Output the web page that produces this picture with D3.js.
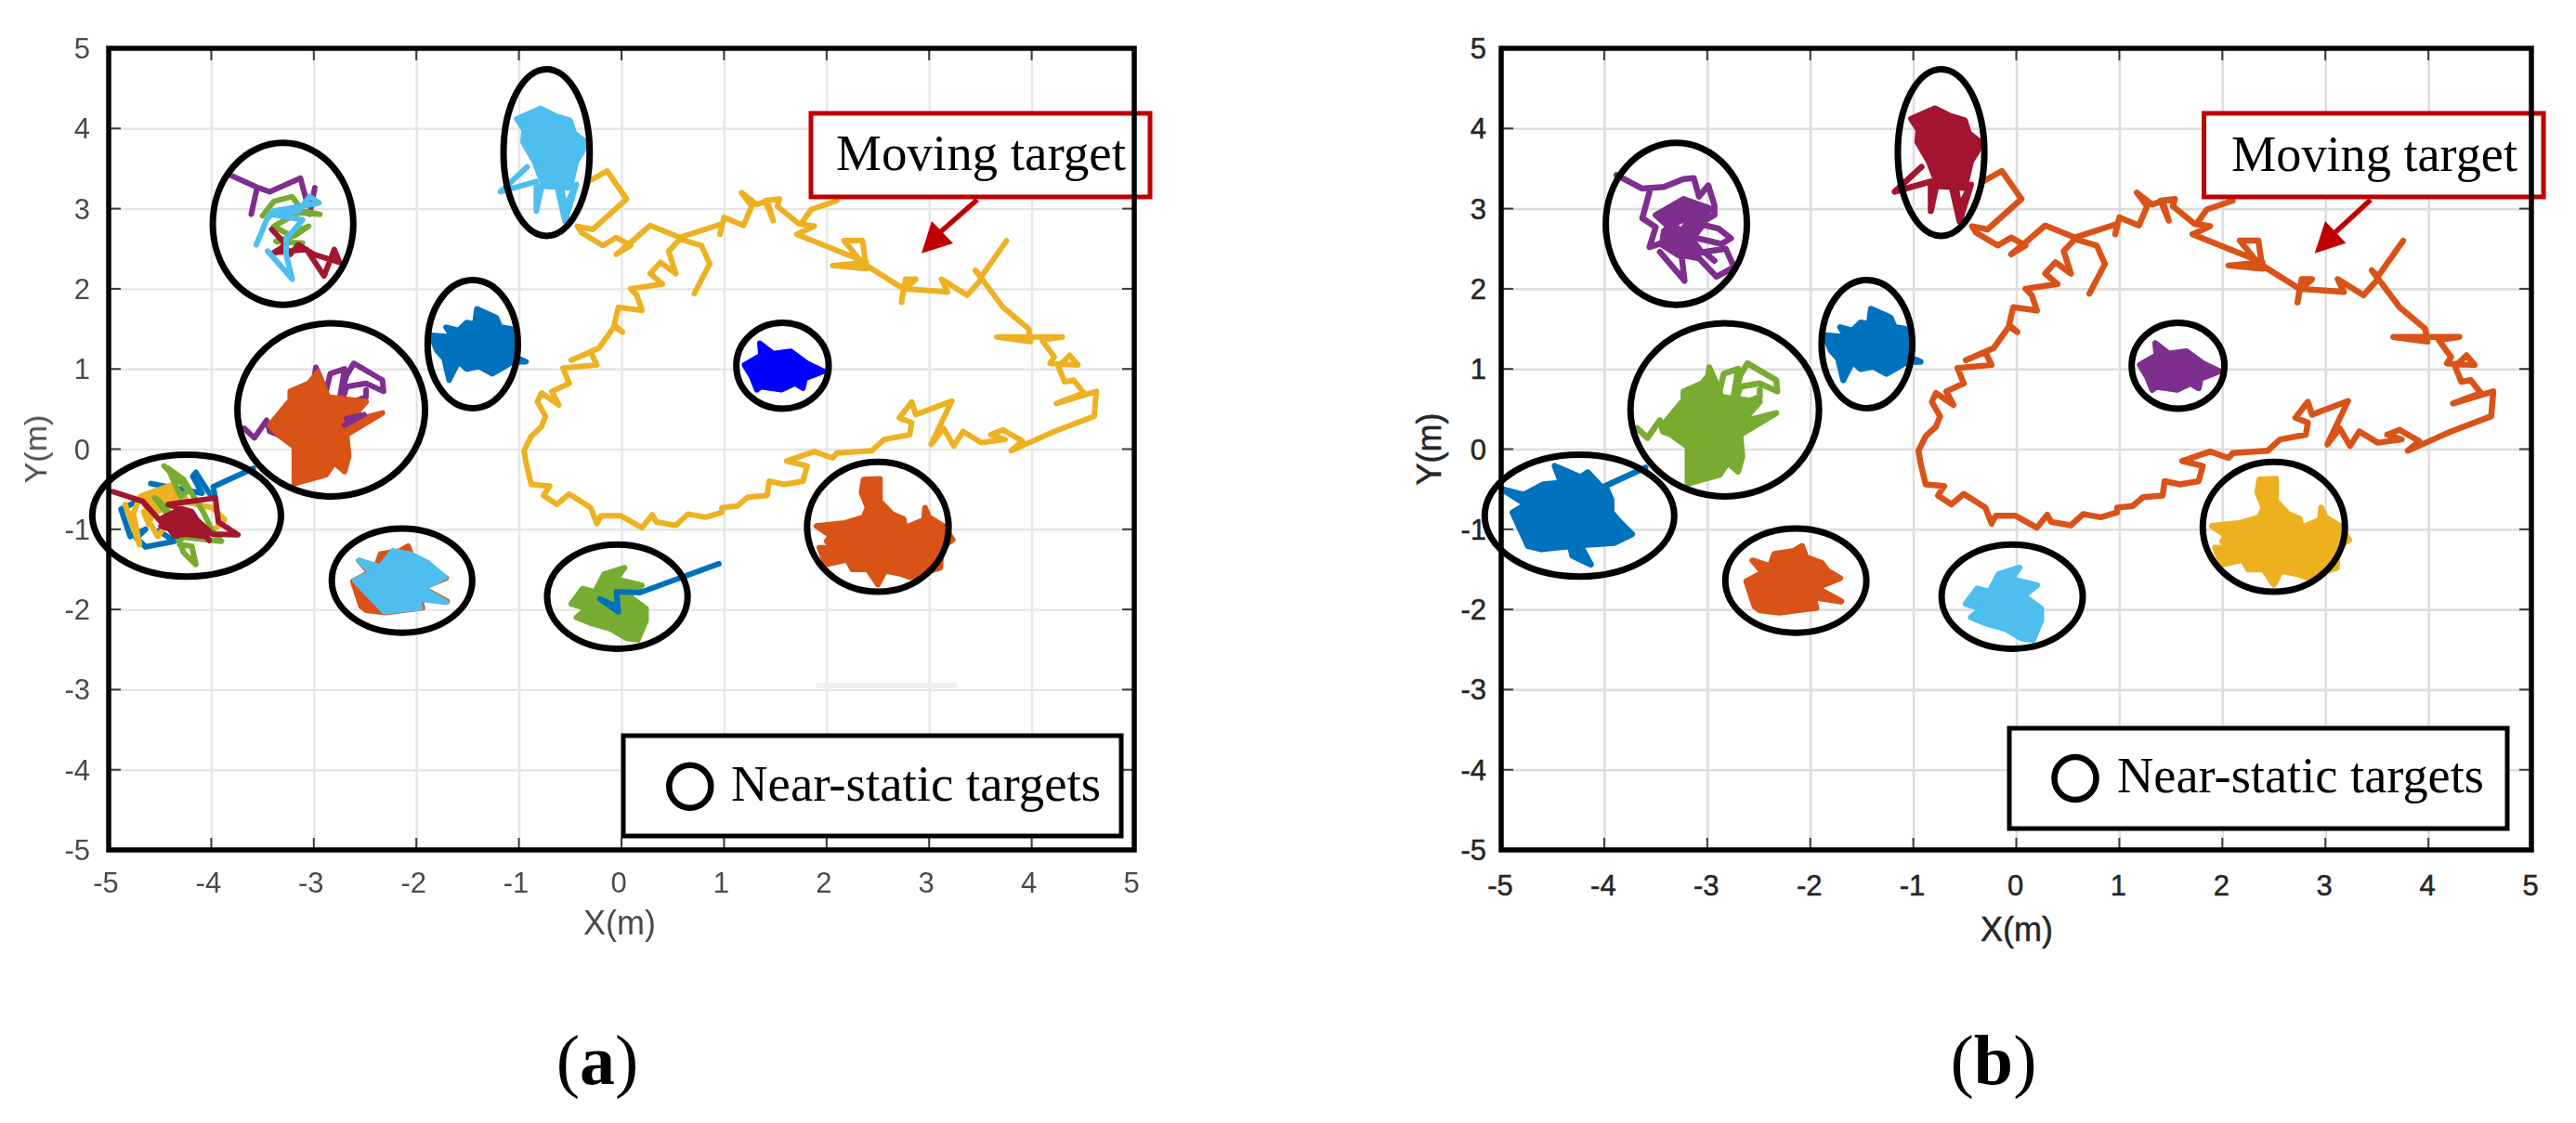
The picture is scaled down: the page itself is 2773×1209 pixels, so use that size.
<!DOCTYPE html>
<html><head><meta charset="utf-8">
<script src="https://cdn.jsdelivr.net/npm/d3@7/dist/d3.min.js"></script>
<style>html,body{margin:0;padding:0;background:#fff}svg{display:block}</style>
</head><body><svg id="c" width="2773" height="1209"></svg>
<script>
// ---- tick labels
const tickValues = [-5,-4,-3,-2,-1,0,1,2,3,4,5];
const xLabel = "X(m)", yLabel = "Y(m)";
const movingLabel = "Moving target", staticLabel = "Near-static targets";

// ---- moving target trajectory (metres)
const movingA = [[3.755,2.60],[3.51,2.155],[3.45,2.23],[3.54,2.08],[3.72,1.77],[3.97,1.50],[3.99,1.34],[3.66,1.40],[4.30,1.40],[4.10,1.36],[4.22,1.15],[4.18,1.07],[4.45,1.05],[4.37,1.17],[4.26,1.03],[4.32,.84],[4.41,.86],[4.51,.70],[4.24,.57],[4.63,.72],[4.61,.41],[4.22,.22],[4.01,.10],[3.80,-.02],[3.91,.10],[3.72,.24],[3.60,.18],[3.74,.12],[3.51,.08],[3.33,.22],[3.24,.04],[3.14,.26],[3.02,.06],[3.22,.60],[2.87,.43],[2.83,.59],[2.71,.39],[2.83,.33],[2.81,.18],[2.56,.12],[2.44,-.02],[2.10,-.05],[2.06,-.11],[1.88,-.03],[1.61,-.15],[1.81,-.21],[1.77,-.40],[1.59,-.44],[1.44,-.40],[1.42,-.58],[1.23,-.60],[1.13,-.71],[.98,-.73],[.98,-.79],[.82,-.85],[.65,-.81],[.53,-.95],[.34,-.91],[.30,-.82],[.20,-.98],[-.01,-.83],[-.20,-.83],[-.24,-.93],[-.30,-.73],[-.51,-.56],[-.63,-.69],[-.76,-.58],[-.70,-.46],[-.88,-.44],[-.93,-.17],[-.95,-.02],[-.88,.16],[-.78,.28],[-.74,.41],[-.82,.59],[-.78,.70],[-.61,.55],[-.68,.72],[-.51,.82],[-.57,1.01],[-.24,1.05],[-.30,1.21],[-.49,1.11],[-.22,1.26],[-.07,1.53],[.01,1.46],[-.07,1.55],[-.03,1.77],[.20,1.73],[.15,1.92],[.09,2.00],[.40,2.06],[.28,2.19],[.38,2.33],[.53,2.19],[.46,2.47],[.57,2.62],[.78,2.54],[.86,2.31],[.71,1.94]];
const movingB = [[.57,2.64],[.28,2.79],[.11,2.60],[-.05,2.43],[.09,2.54],[-.05,2.64],[-.18,2.54],[-.39,2.70],[-.43,2.78],[-.28,2.74],[.05,3.12],[-.14,3.47],[-.32,3.34]];
const movingC = [[.57,2.64],[.98,2.81],[.96,2.68],[1.00,2.89],[1.19,2.79],[1.27,3.03],[1.17,3.20],[1.32,3.05],[1.42,3.10],[1.48,2.85],[1.40,3.10],[1.54,3.12],[1.52,3.03],[1.73,2.81],[1.88,2.78],[1.71,2.68],[2.39,2.33],[2.06,2.29],[2.39,2.25],[2.35,2.60],[2.17,2.60],[2.33,2.35],[2.39,2.29],[2.75,2.00],[2.73,1.83],[2.77,2.12],[2.87,2.12],[2.77,2.00],[3.18,1.96],[3.12,2.12],[3.37,1.92],[3.51,2.12]];
const movingD = [[1.75,2.81],[1.85,2.99],[2.10,3.10]];

// ---- near-static target clusters (metres)
const t1Core = [[-.79,4.25],[-1.02,4.12],[-.95,3.98],[-.96,3.83],[-.85,3.59],[-.80,3.42],[-.75,3.28],[-.50,3.26],[-.44,3.59],[-.38,3.71],[-.35,3.83],[-.46,3.94],[-.50,4.10],[-.65,4.16]];
const t1Trail = [[-.92,3.52],[-1.18,3.21],[-.83,3.34],[-.83,2.97],[-.76,3.38],[-.65,3.40],[-.55,2.84],[-.44,3.30],[-.55,3.02],[-.60,3.35]];
const t2PurpleA = [[-3.82,3.42],[-3.54,3.26],[-3.43,3.21],[-3.13,3.38],[-3.07,3.09]];
const t2PurpleB = [[-3.56,3.22],[-3.61,2.93]];
const t2PurpleC = [[-2.99,3.26],[-3.04,2.93]];
const t2Green = [[-3.50,2.91],[-3.39,3.09],[-3.21,3.15],[-3.11,2.97],[-2.94,2.93],[-3.15,2.95],[-3.39,2.78],[-3.25,2.68],[-3.05,2.78],[-3.19,2.66],[-3.37,2.59],[-3.11,2.57]];
const t2Red = [[-3.41,2.74],[-3.27,2.55],[-3.39,2.45],[-3.07,2.49],[-2.90,2.16],[-2.80,2.49],[-2.75,2.33],[-3.00,2.43],[-3.15,2.55],[-3.23,2.43]];
const t2Sky = [[-3.56,2.55],[-3.46,2.86],[-3.39,2.97],[-2.95,3.07],[-3.04,3.15],[-3.15,2.97],[-3.43,2.93],[-3.11,2.86],[-3.27,2.62],[-3.27,2.43],[-3.21,2.12],[-3.45,2.47]];
const t2Outer = [[-3.88,3.42],[-3.63,3.25],[-3.42,3.27],[-3.23,3.37],[-3.13,3.38],[-3.08,3.15],[-2.99,3.29],[-2.93,3.04],[-2.93,2.92],[-3.08,2.81],[-2.89,2.75],[-2.77,2.63],[-2.86,2.56],[-3.16,2.65],[-3.42,2.58],[-3.56,2.52],[-3.50,2.77],[-3.63,2.88],[-3.56,3.21]];
const t2Lower = [[-3.46,2.46],[-3.22,2.10],[-3.25,2.42],[-3.08,2.38],[-2.91,2.15],[-2.74,2.27],[-2.82,2.50],[-3.03,2.46],[-2.93,2.35]];
const t2CoreUpper = [[-3.50,2.92],[-3.23,3.12],[-2.97,3.00],[-3.05,2.85],[-3.20,2.88],[-3.38,2.78]];
const t2CoreLower = [[-3.42,2.72],[-3.33,2.80],[-3.25,2.72],[-3.18,2.85],[-3.05,2.78],[-3.15,2.62],[-3.05,2.45],[-3.28,2.42],[-3.44,2.55]];
const t3Blob = [[-1.41,1.75],[-1.22,1.64],[-1.18,1.52],[-1.08,1.50],[-1.06,1.31],[-1.04,1.15],[-.93,1.09],[-1.06,1.09],[-1.14,1.03],[-1.26,.94],[-1.39,1.03],[-1.51,1.00],[-1.59,1.09],[-1.68,.86],[-1.73,1.13],[-1.80,1.23],[-1.86,1.42],[-1.65,1.40],[-1.71,1.52],[-1.59,1.48],[-1.51,1.58],[-1.43,1.56]];
const t4Core = [[-2.96,.96],[-2.86,.65],[-2.49,.59],[-2.66,.34],[-2.33,.45],[-2.68,.18],[-2.66,-.09],[-2.70,-.28],[-2.80,-.17],[-2.88,-.32],[-3.19,-.43],[-3.19,.03],[-3.33,.16],[-3.43,.30],[-3.23,.61],[-3.23,.72],[-3.05,.82]];
const t4Left = [[-3.68,.26],[-3.58,.14],[-3.46,.36],[-3.43,.22],[-3.31,.16]];
const t4Upper = [[-3.00,.84],[-2.98,1.02],[-2.88,.72],[-2.84,.94],[-2.70,1.00],[-2.76,.53],[-2.68,.92],[-2.61,1.07],[-2.33,.86],[-2.32,.72],[-2.49,.82],[-2.68,.78],[-2.74,.53],[-2.49,.65],[-2.49,.74]];
const t4Small = [[-2.70,.30],[-2.51,.43],[-2.68,.38]];
const t5Blue = [[-3.59,-.24],[-3.98,-.47],[-3.96,-.61],[-4.02,-.55],[-4.15,-.29],[-4.18,-.34],[-4.09,-.55],[-4.59,-.43],[-4.43,-.47],[-4.78,-.69],[-4.88,-.75],[-4.79,-1.09],[-4.64,-1.00],[-4.73,-1.11],[-4.64,-1.22],[-4.36,-1.15],[-4.51,-1.02]];
const t5Yellow = [[-4.84,-.69],[-4.70,-1.19],[-4.76,-.80],[-4.69,-.59],[-4.37,-.44],[-4.27,-.63],[-4.52,-1.09],[-4.66,-.78],[-4.61,-.94],[-4.51,-.59],[-3.99,-.73],[-3.87,-.88],[-3.95,-.98]];
const t5YellowCore = [[-4.68,-.62],[-4.37,-.47],[-4.25,-.62],[-4.45,-.75],[-4.60,-.80]];
const t5Green = [[-4.46,-.21],[-4.19,-.55],[-4.27,-.38],[-4.42,-.24],[-4.30,-.59],[-4.21,-.51],[-4.08,-.78],[-3.99,-1.02],[-3.90,-1.15],[-4.33,-1.09],[-4.27,-1.29],[-4.15,-1.44],[-4.19,-1.21],[-4.31,-1.19],[-4.28,-1.05],[-4.55,-.61],[-4.42,-.78],[-4.52,-.63]];
const t5Red = [[-4.96,-.53],[-4.67,-.65],[-4.48,-.92],[-4.33,-1.08],[-4.22,-.82],[-4.02,-1.14],[-4.19,-.78],[-4.42,-.69],[-3.96,-.61],[-3.93,-.91],[-3.74,-1.07],[-3.99,-1.06],[-4.15,-.87],[-4.24,-1.06],[-4.49,-.96],[-4.36,-.80]];
const t5RedCore = [[-4.48,-.86],[-4.33,-.77],[-4.18,-.86],[-4.06,-1.09],[-4.24,-1.06],[-4.36,-1.08]];
const t5Blob = [[-3.60,-.23],[-3.99,-.46],[-3.93,-.63],[-3.93,-.79],[-3.87,-.88],[-3.73,-1.06],[-3.90,-1.17],[-4.23,-1.20],[-4.13,-1.44],[-4.31,-1.33],[-4.33,-1.21],[-4.61,-1.25],[-4.74,-1.21],[-4.89,-.79],[-4.76,-.69],[-4.99,-.50],[-4.78,-.57],[-4.59,-.44],[-4.42,-.42],[-4.48,-.21],[-4.23,-.35],[-4.16,-.29],[-4.02,-.48]];
const t6Blob = [[-2.08,-1.21],[-2.04,-1.35],[-1.89,-1.42],[-1.83,-1.52],[-1.71,-1.61],[-1.94,-1.73],[-1.70,-1.90],[-1.97,-1.85],[-1.94,-1.98],[-2.30,-2.04],[-2.49,-2.01],[-2.54,-1.96],[-2.62,-1.65],[-2.46,-1.54],[-2.56,-1.39],[-2.39,-1.46],[-2.35,-1.31],[-2.16,-1.27]];
const t6Top = [[-2.23,-1.27],[-2.06,-1.31],[-1.90,-1.41],[-1.72,-1.60],[-1.94,-1.74],[-1.71,-1.91],[-1.98,-1.87],[-1.96,-1.98],[-2.31,-2.03],[-2.46,-1.83],[-2.60,-1.64],[-2.44,-1.54],[-2.56,-1.39],[-2.35,-1.47]];
const t7Blob = [[.03,-1.48],[-.05,-1.62],[.20,-1.70],[.07,-1.83],[.24,-1.99],[.24,-2.14],[.16,-2.38],[.05,-2.36],[-.11,-2.24],[-.28,-2.18],[-.44,-2.10],[-.34,-1.99],[-.49,-1.93],[-.38,-1.74],[-.26,-1.78],[-.17,-1.56]];
const t7Spur = [[.95,-1.43],[.18,-1.79],[-.05,-1.78],[-.03,-2.03],[-.21,-1.87],[-.07,-1.95]];
const t8Blob = [[1.35,1.32],[1.48,1.19],[1.65,1.22],[1.81,1.07],[1.97,.97],[1.79,.88],[1.77,.76],[1.69,.82],[1.56,.74],[1.36,.78],[1.32,.74],[1.27,.90],[1.20,1.05],[1.36,1.17]];
const t9Blob = [[2.36,-.38],[2.52,-.37],[2.52,-.65],[2.64,-.81],[2.75,-.87],[2.77,-.98],[2.95,-.88],[2.96,-.73],[3.00,-.85],[3.14,-.96],[3.23,-1.13],[3.12,-1.23],[3.11,-1.48],[2.82,-1.60],[2.73,-1.56],[2.57,-1.52],[2.50,-1.69],[2.40,-1.50],[2.25,-1.50],[2.20,-1.38],[1.99,-1.44],[1.93,-1.23],[2.07,-1.23],[2.00,-1.15],[2.04,-1.08],[1.90,-.96],[2.18,-.92],[2.36,-.85],[2.40,-.73],[2.34,-.54]];

// ---- cluster ellipses: centre x, centre y, radius x, radius y (metres)
const ellipseCx = [-.73,-3.30,-1.45,-2.83,-4.24,-2.14,-.04,1.57,2.50];
const ellipseCy = [3.70,2.81,1.31,.49,-.83,-1.64,-1.84,1.04,-.97];
const ellipseRx = [.42,.685,.44,.915,.92,.685,.685,.45,.69];
const ellipseRy = [1.04,1.01,.80,1.08,.76,.65,.65,.535,.81];

// ---- colours
const SKY="#4DBEEE", BLUE="#0072BD", PURE="#0000FF", GREEN="#77AC30", PURPLE="#7E2F8E", RED="#A2142F", ORANGE="#D95319", YELLOW="#EDB120";

const movingSegments = [movingA,movingB,movingC,movingD];

// layout of the two panels
const panels = [
 { x:[117,1221], y:[915,52], lw:6, blur:true, text:"#4a4a4a", stroke:0, moving:YELLOW, grid:"#e6e6e6", gridW:2.4,
   xBase:961, xLabelX:667, xLabelY:1006, yLabelX:50, yLabelSize:34, yEnd:97, xOff:-3,
   box:[873,1238,122,212], movingText:[900,183,312], arrow:[[1052,215],[1012,250]], head:[[992,272.7],[1003,238],[1026,262]],
   legend:[671,1207,792,900], circle:[742.8,846.7], staticText:[787,862,398],
   tag:"a", tagX:643,
   marks:[
    [t1Core,SKY,1],[t1Trail,SKY,0],
    [t2PurpleA,PURPLE,0],[t2PurpleB,PURPLE,0],[t2PurpleC,PURPLE,0],[t2Green,GREEN,0],[t2Red,RED,0],[t2Sky,SKY,0],
    [t3Blob,BLUE,1],
    [t4Left,PURPLE,0],[t4Upper,PURPLE,0],[t4Core,ORANGE,1],[t4Small,PURPLE,0],
    [t5Blue,BLUE,0],[t5Yellow,YELLOW,0],[t5YellowCore,YELLOW,1],[t5Green,GREEN,0],[t5Red,RED,0],[t5RedCore,RED,1],
    [t6Blob,ORANGE,1],[t6Top,SKY,1],
    [t7Blob,GREEN,1],[t7Spur,BLUE,0],
    [t8Blob,PURE,1],[t9Blob,ORANGE,1]
   ]},
 { x:[1616,2725], y:[915,52], lw:6.5, blur:false, text:"#262626", stroke:.5, moving:ORANGE, grid:"#dedede", gridW:2.6,
   xBase:964, xLabelX:2171, xLabelY:1013, yLabelX:1551, yLabelSize:36, yEnd:1600, xOff:-1,
   box:[2372.5,2738,122,212], movingText:[2402,183.5,308], arrow:[[2552,215],[2514,250]], head:[[2491.7,272.7],[2503,238],[2525.4,261.7]],
   legend:[2163,2699,784,892], circle:[2234,838], staticText:[2279,853,395],
   tag:"b", tagX:2146,
   marks:[
    [t1Core,RED,1],[t1Trail,RED,0],
    [t2Outer,PURPLE,0],[t2Lower,PURPLE,0],[t2CoreUpper,PURPLE,1],[t2CoreLower,PURPLE,1],
    [t3Blob,BLUE,1],
    [t4Left,GREEN,0],[t4Upper,GREEN,0],[t4Core,GREEN,1],
    [t5Blob,BLUE,1],
    [t6Blob,ORANGE,1],[t7Blob,SKY,1],[t8Blob,PURPLE,1],[t9Blob,YELLOW,1]
   ]}
];

const svg = d3.select("#c");
const defs = svg.append("defs");
defs.append("filter").attr("id","soft").append("feGaussianBlur").attr("stdDeviation",0.7);
const SANS = "'Liberation Sans',Arial,sans-serif", SERIF = "'Liberation Serif','Times New Roman',serif";

panels.forEach(p=>{
  const x = d3.scaleLinear().domain([-5,5]).range(p.x);
  const y = d3.scaleLinear().domain([-5,5]).range(p.y);
  const line = d3.line().x(d=>x(d[0])).y(d=>y(d[1]));
  const g = svg.append("g");
  const soft = g.append("g").attr("filter",p.blur?"url(#soft)":null);

  // grid through the library's axes
  soft.append("g").attr("transform",`translate(0,${p.y[0]})`)
    .call(d3.axisBottom(x).tickValues(tickValues).tickSize(p.y[1]-p.y[0]).tickFormat(""))
    .call(s=>s.select(".domain").remove())
    .call(s=>s.selectAll("line").attr("stroke",p.grid).attr("stroke-width",p.gridW));
  soft.append("g").attr("transform",`translate(${p.x[0]},0)`)
    .call(d3.axisLeft(y).tickValues(tickValues).tickSize(p.x[0]-p.x[1]).tickFormat(""))
    .call(s=>s.select(".domain").remove())
    .call(s=>s.selectAll("line").attr("stroke",p.grid).attr("stroke-width",p.gridW));

  if(p.blur){ // faint smudge left in the left-hand screenshot
    soft.append("path").attr("d",line([[1.9,-2.95],[3.27,-2.95]])).attr("stroke","#f0f0f0").attr("stroke-width",6).attr("fill","none");
  }

  // small inner ticks, all four sides
  const tickCol="#3a3a3a", tl=13;
  [[p.y[0],-tl],[p.y[1],tl]].forEach(([yy,d])=>{
    soft.selectAll(null).data(tickValues.slice(1,-1)).join("line")
      .attr("x1",v=>x(v)).attr("x2",v=>x(v)).attr("y1",yy).attr("y2",yy+d).attr("stroke",tickCol).attr("stroke-width",2);
  });
  [[p.x[0],tl],[p.x[1],-tl]].forEach(([xx,d])=>{
    soft.selectAll(null).data(tickValues.slice(1,-1)).join("line")
      .attr("y1",v=>y(v)).attr("y2",v=>y(v)).attr("x1",xx).attr("x2",xx+d).attr("stroke",tickCol).attr("stroke-width",2);
  });

  // tick labels
  const lab = s=>s.attr("font-family",SANS).attr("font-size",31).attr("fill",p.text)
     .attr("stroke",p.text).attr("stroke-width",p.stroke);
  soft.selectAll(null).data(tickValues).join("text").text(d=>String(d))
    .attr("x",v=>x(v)+p.xOff).attr("y",p.xBase).attr("text-anchor","middle").call(lab);
  soft.selectAll(null).data(tickValues).join("text").text(d=>String(d))
    .attr("x",p.yEnd).attr("y",v=>y(v)+11).attr("text-anchor","end").call(lab);
  soft.append("text").text(xLabel).attr("x",p.xLabelX).attr("y",p.xLabelY).attr("text-anchor","middle")
    .call(lab).attr("font-size",36);
  soft.append("text").text(yLabel).attr("transform",`translate(${p.yLabelX},${y(0)}) rotate(-90)`).attr("text-anchor","middle")
    .call(lab).attr("font-size",p.yLabelSize);

  // tracks
  const tr = soft.append("g").attr("stroke-linejoin","round").attr("stroke-linecap","round");
  movingSegments.forEach(seg=>{
    tr.append("path").attr("d",line(seg)).attr("fill","none").attr("stroke",p.moving).attr("stroke-width",p.lw);
  });
  p.marks.forEach(([data,col,filled])=>{
    tr.append("path").attr("d",line(data)+(filled?"Z":""))
      .attr("fill",filled?col:"none").attr("stroke",col).attr("stroke-width",p.lw);
  });

  // ellipses
  g.selectAll(null).data(ellipseCx).join("ellipse")
    .attr("cx",d=>x(d)).attr("cy",(d,i)=>y(ellipseCy[i]))
    .attr("rx",(d,i)=>x(ellipseRx[i])-x(0)).attr("ry",(d,i)=>y(0)-y(ellipseRy[i]))
    .attr("fill","none").attr("stroke","#000").attr("stroke-width",7);

  // Moving-target callout
  const [bx0,bx1,by0,by1]=p.box;
  g.append("rect").attr("x",bx0).attr("y",by0).attr("width",bx1-bx0).attr("height",by1-by0)
    .attr("fill","#fff").attr("stroke","#C00000").attr("stroke-width",5);
  g.append("path").attr("d",d3.line()(p.arrow)).attr("stroke","#C00000").attr("stroke-width",5.5).attr("fill","none");
  g.append("path").attr("d",d3.line()(p.head)+"Z").attr("fill","#C00000");
  g.append("text").text(movingLabel).attr("x",p.movingText[0]).attr("y",p.movingText[1])
    .attr("textLength",p.movingText[2]).attr("lengthAdjust","spacingAndGlyphs")
    .attr("font-family",SERIF).attr("font-size",54.5).attr("fill","#000");

  // legend
  const [lx0,lx1,ly0,ly1]=p.legend;
  g.append("rect").attr("x",lx0).attr("y",ly0).attr("width",lx1-lx0).attr("height",ly1-ly0)
    .attr("fill","#fff").attr("stroke","#000").attr("stroke-width",5);
  g.append("ellipse").attr("cx",p.circle[0]).attr("cy",p.circle[1]).attr("rx",22.5).attr("ry",23)
    .attr("fill","none").attr("stroke","#000").attr("stroke-width",6.5);
  g.append("text").text(staticLabel).attr("x",p.staticText[0]).attr("y",p.staticText[1])
    .attr("textLength",p.staticText[2]).attr("lengthAdjust","spacingAndGlyphs")
    .attr("font-family",SERIF).attr("font-size",54.5).attr("fill","#000");

  // frame on top
  g.append("rect").attr("x",p.x[0]).attr("y",p.y[1]).attr("width",p.x[1]-p.x[0]).attr("height",p.y[0]-p.y[1])
    .attr("fill","none").attr("stroke","#000").attr("stroke-width",5.5);

  // sub-figure tag
  const tag = g.append("text").attr("x",p.tagX).attr("y",1167).attr("text-anchor","middle")
    .attr("font-family",SERIF).attr("font-size",76).attr("fill","#000");
  tag.append("tspan").text("(");
  tag.append("tspan").attr("font-weight","bold").text(p.tag);
  tag.append("tspan").text(")");
});
</script></body></html>
